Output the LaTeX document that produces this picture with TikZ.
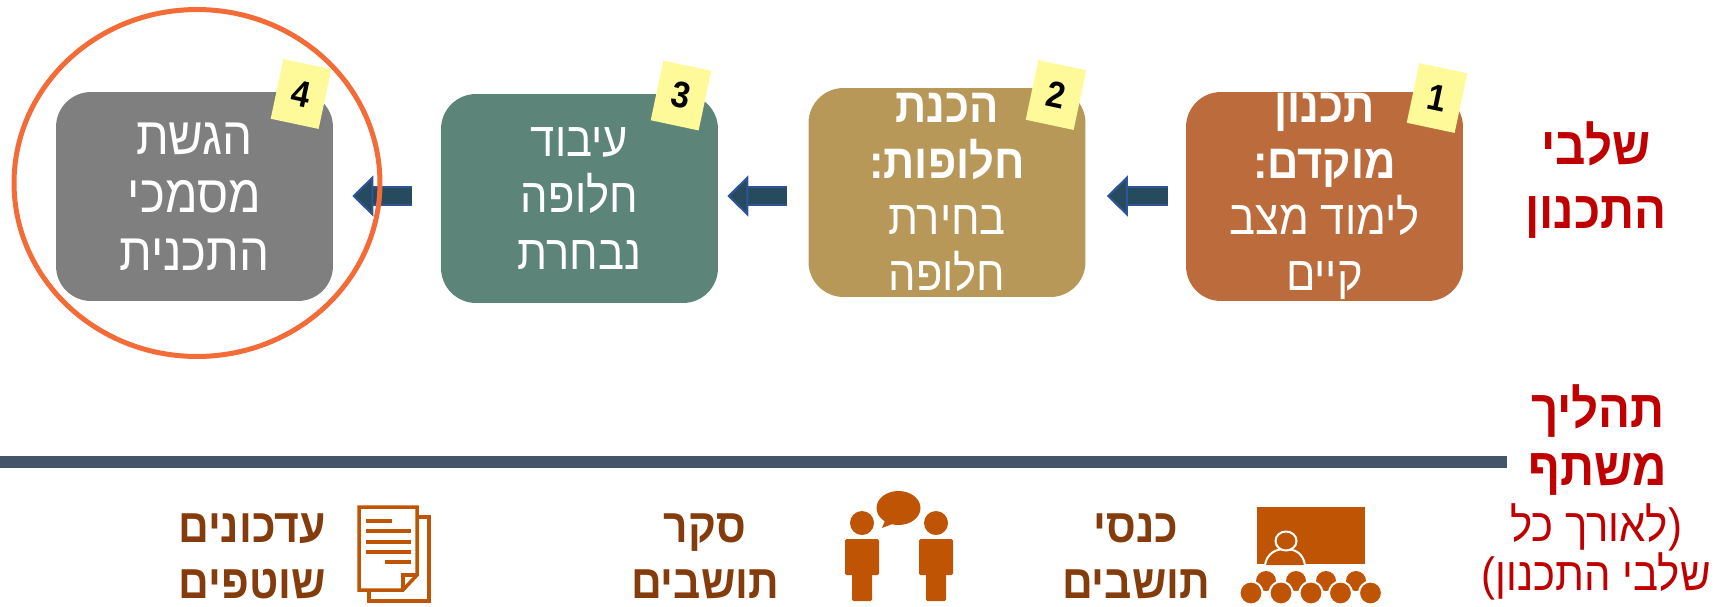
\documentclass[tikz,border=0pt]{standalone}
\usepackage{fontspec}
\setmainfont[Script=Hebrew,FakeStretch=.9]{Liberation Sans}
\TeXXeTstate=1
\usetikzlibrary{arrows.meta,shapes.geometric}
\definecolor{planred}{HTML}{C00000}
\definecolor{iconorange}{HTML}{BF5504}
\definecolor{textbrown}{HTML}{843C0C}
\definecolor{barblue}{HTML}{44546A}
\definecolor{arrowblue}{HTML}{264B5F}
\definecolor{arrowedge}{HTML}{2F5597}
\definecolor{ringorange}{HTML}{F36C38}
\newcommand{\heb}[1]{\beginR #1\endR}
\tikzstyle{stagebox} = [rounded corners=.7cm,minimum width=5.54cm,minimum height=4.18cm,inner sep=0pt,align=center,text=white,font=\fontsize{27.5}{32}\selectfont]
\tikzstyle{stickynote} = [fill=yellow!40!white,minimum width=.98cm,minimum height=1.22cm,inner sep=0pt,rotate=-12,font=\fontsize{21}{21}\selectfont\bfseries]
\tikzstyle{flowarrow} = [draw=arrowedge,double=arrowblue,line width=.04cm,double distance=.32cm,-{Triangle[length=.42cm,width=.82cm,color=arrowedge,fill=arrowblue,line width=.04cm]}]
\tikzstyle{rowlabel} = [align=center,text=planred,font=\fontsize{30}{36}\selectfont\bfseries]
\tikzstyle{sublabel} = [align=center,text=planred,font=\fontsize{26.5}{28}\selectfont]
\tikzstyle{toollabel} = [text=textbrown,font=\fontsize{27}{32}\selectfont\bfseries]
\tikzstyle{iconshape} = [fill=iconorange,draw=none]
\tikzstyle{iconring} = [fill=iconorange,draw=white,line width=.04cm]
\tikzstyle{iconline} = [draw=iconorange,line width=.07cm]

\begin{document}
\begin{tikzpicture}[x=.02cm,y=-.02cm]
		\useasboundingbox (0,0) rectangle (1729,606);
		\node[stagebox,fill={rgb,255:red,188;green,108;blue,60}] (box1) at (1324.5,196.5) {\textbf{\heb{תכנון}}\\\textbf{\heb{מוקדם:}}\\\heb{לימוד מצב}\\\heb{קיים}};
		\node[stagebox,fill={rgb,255:red,183;green,152;blue,88}] (box2) at (947,192.5) {\textbf{\heb{הכנת}}\\\textbf{\heb{חלופות:}}\\\heb{בחירת}\\\heb{חלופה}};
		\node[stagebox,fill={rgb,255:red,92;green,132;blue,120}] (box3) at (579.5,198.5) {\heb{עיבוד}\\\heb{חלופה}\\\heb{נבחרת}};
		\node[stagebox,fill={rgb,255:red,127;green,127;blue,127},font=\fontsize{30}{33}\selectfont] (box4) at (194.5,196.5) {\heb{הגשת}\\\heb{מסמכי}\\\heb{התכנית}};

		\node[stickynote] (note1) at (1437,98) {1};
		\node[stickynote] (note2) at (1056,95) {2};
		\node[stickynote] (note3) at (681,95.5) {3};
		\node[stickynote] (note4) at (301,94) {4};

		\coordinate (arrowrow) at (0,196);
		\draw[flowarrow,shorten <=.36cm,shorten >=.42cm] (box1.west |- arrowrow) -- (box2.east |- arrowrow);
		\draw[flowarrow,shorten <=.42cm,shorten >=.18cm] (box2.west |- arrowrow) -- (box3.east |- arrowrow);
		\draw[flowarrow,shorten <=.58cm,shorten >=.38cm] (box3.west |- arrowrow) -- (box4.east |- arrowrow);

		\node[ellipse,draw=ringorange,line width=.1cm,minimum width=7.32cm,minimum height=6.94cm,inner sep=0pt] (ring) at (197,183) {};

		\node[rowlabel] (stages) at (1596,180) {\heb{שלבי}\\\heb{התכנון}};
		\node[rowlabel,font=\fontsize{30}{32.5}\selectfont\bfseries] (process) at (1598,440) {\heb{תהליך}\\\heb{משתף}};
		\node[sublabel] (along) at (1596,552) {\heb{(לאורך כל}\\\heb{שלבי התכנון)}};

		\coordinate (barleft) at (0,462);
		\coordinate (barright) at (1507,462);
		\draw[barblue,line width=.25cm] (barleft) -- (barright);

		\node[toollabel,align=center] (meetings) at (1136,556) {\heb{כנסי}\\\heb{תושבים}};
		\node[toollabel,align=center] (survey) at (705,556) {\heb{סקר}\\\heb{תושבים}};
		\node[toollabel,align=right,anchor=east] (updates) at (332,556) {\heb{עדכונים}\\\heb{שוטפים}};

		% presentation icon
		\fill[iconshape] (1257,507) rectangle (1365,564);
		\draw[iconring] (1265,565) .. controls (1267,553) and (1276,549) .. (1285,549) .. controls (1295,549) and (1303,553) .. (1305,565);
		\draw[iconring] (1286,541) ellipse (10.5 and 9.5);
		\foreach \x in {1266,1296,1326,1356}
			\fill[iconshape] (\x,581) circle (10);
		\foreach \x in {1251,1281,1311,1340.5,1370.5}
			\draw[iconring] (\x,593) circle (11.5);

		% people talking icon
		\foreach \x in {862,936} {
			\fill[iconshape] (\x,523) circle (12);
			\fill[iconshape,rounded corners=.03cm] (\x-17,539) rectangle (\x+17,575);
			\fill[iconshape,rounded corners=.03cm] (\x-10,570) rectangle (\x+10,601);
		}
		\fill[iconshape] (898.5,508) ellipse (22 and 17);
		\fill[iconshape] (886,518) -- (882,528) -- (895,523) -- cycle;

		% documents icon
		\draw[iconline,fill=white] (369,517) rectangle (429,601);
		\draw[iconline,fill=white] (359,507) -- (417,507) -- (417,575) -- (403,590) -- (359,590) -- cycle;
		\draw[iconline] (403,590) -- (403,575) -- (417,575);
		\draw[iconline] (366,521) -- (392,521);
		\draw[iconline] (366,531) -- (411,531);
		\draw[iconline] (366,542) -- (411,542);
		\draw[iconline] (366,552) -- (411,552);
		\draw[iconline] (385,562) -- (411,562);
\end{tikzpicture}
\end{document}
